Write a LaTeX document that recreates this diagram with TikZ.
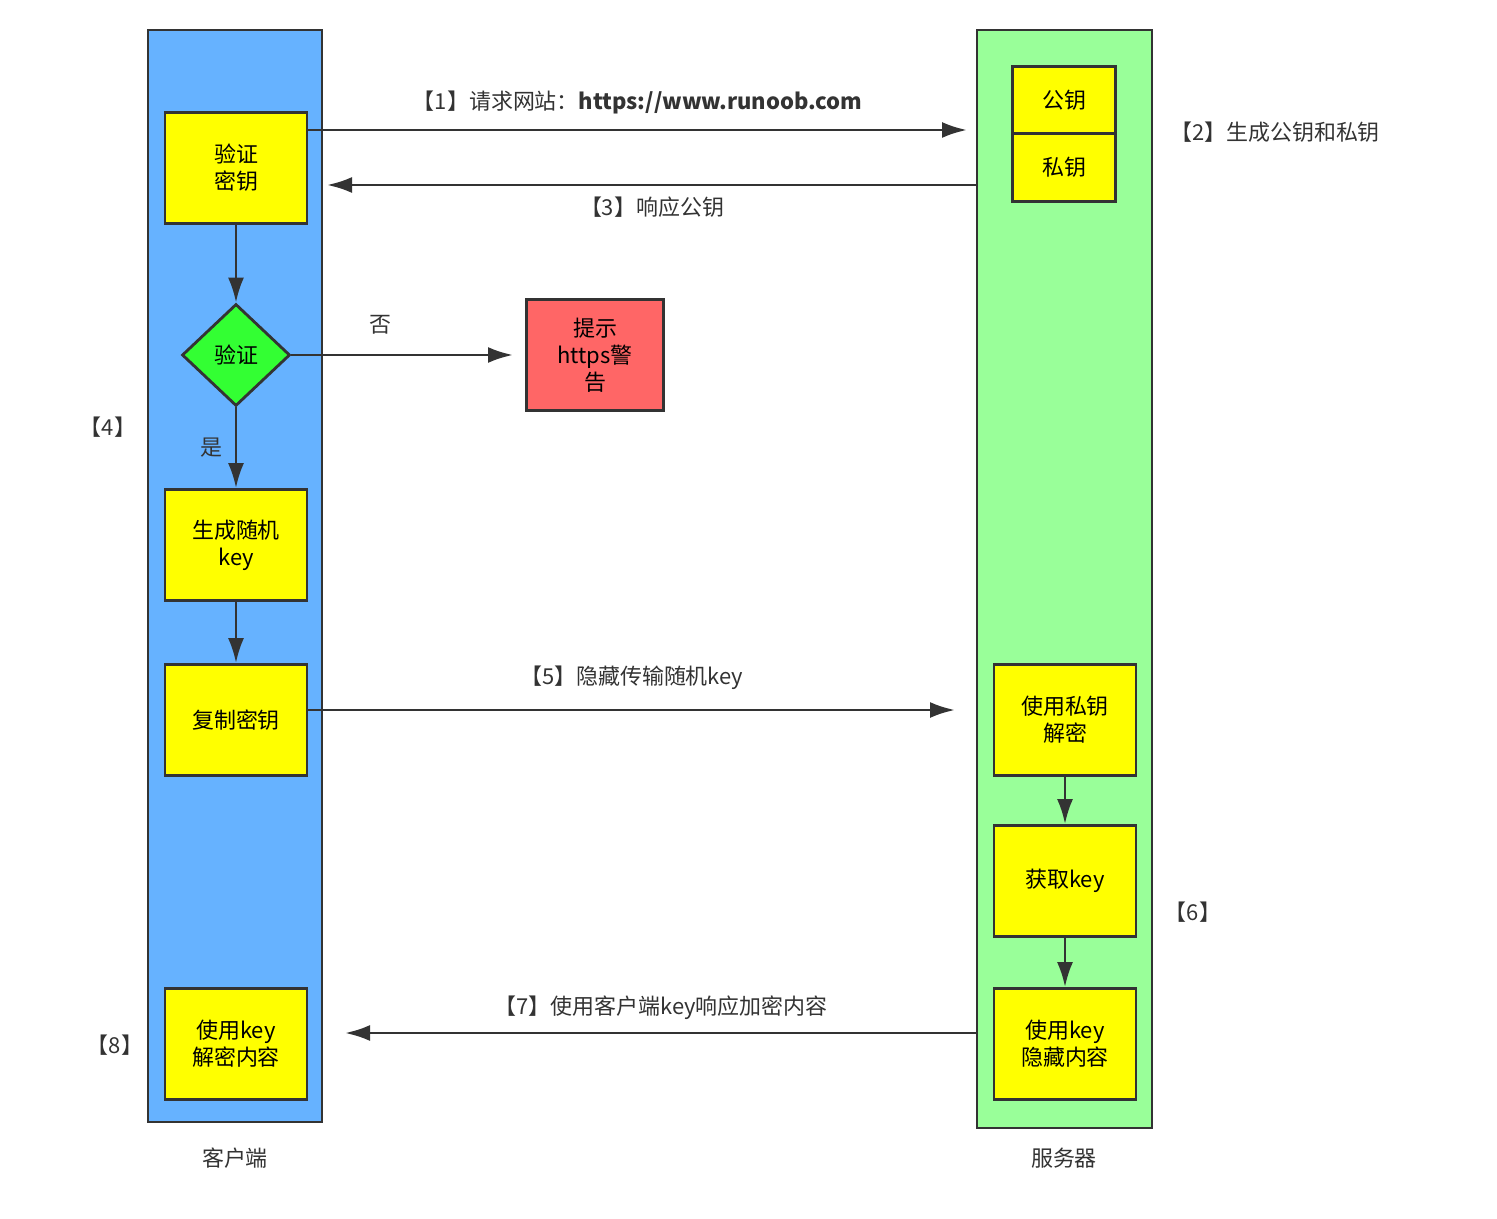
\documentclass[tikz,border=0pt]{standalone}
\usepackage{fontspec}
\setmainfont{Noto Sans CJK SC}
\usepackage{xcolor}
\usetikzlibrary{positioning, arrows.meta, shapes.geometric}
\definecolor{clientblue}{HTML}{66B2FF}
\definecolor{servergreen}{HTML}{99FF99}
\definecolor{boxyellow}{HTML}{FFFF00}
\definecolor{diagreen}{HTML}{33FF33}
\definecolor{warnred}{HTML}{FF6666}
\definecolor{linegray}{HTML}{333333}
\tikzset{
  lane/.style={draw=linegray, line width=1.6pt},
  stepbox/.style={draw=linegray, line width=1.6pt, fill=boxyellow, minimum width=2.84cm, minimum height=2.22cm, align=center, font=\fontsize{12.5}{15.5}\selectfont, inner sep=0pt},
  flow/.style={draw=linegray, line width=1.6pt, -{Latex[length=0.5cm,width=0.32cm]}},
  lbl/.style={font=\fontsize{12.5}{15.5}\selectfont, text=linegray, inner sep=1pt}
}
\begin{document}
\begin{tikzpicture}[x=0.02cm, y=-0.02cm]
        \useasboundingbox (0,0) rectangle (1497,1219);
        % lanes
        \draw[lane, fill=clientblue] (148,30) rectangle (322,1122);
        \draw[lane, fill=servergreen] (977,30) rectangle (1152,1128);
        \node[lbl] (client) at (235,1158) {客户端};
        \node[lbl] (server) at (1064,1158) {服务器};
        % client side
        \node[stepbox] (check) at (236,168) {验证\\密钥};
        \node[diamond, draw=linegray, line width=1.6pt, fill=diagreen, minimum width=2.16cm, minimum height=2.04cm, inner sep=0pt, font=\fontsize{12.5}{15.5}\selectfont] (verify) at (236,355) {验证};
        \node[stepbox, fill=warnred, minimum width=2.74cm] (warn) at (595,355) {提示\\https警\\告};
        \node[stepbox] (genkey) at (236,545) {生成随机\\key};
        \node[stepbox] (copykey) at (236,720) {复制密钥};
        \node[stepbox] (decode) at (236,1044) {使用key\\解密内容};
        % server side
        \node[stepbox, minimum width=2.06cm, minimum height=1.34cm] (pub) at (1064,100) {公钥};
        \node[stepbox, minimum width=2.06cm, minimum height=1.36cm, below=-1.6pt of pub] (priv) {私钥};
        \node[stepbox] (privdec) at (1065,720) {使用私钥\\解密};
        \node[stepbox] (getkey) at (1065,881) {获取key};
        \node[stepbox] (hide) at (1065,1044) {使用key\\隐藏内容};
        % free ends
        \coordinate (req) at (967,130);
        \coordinate (resp) at (327,185);
        \coordinate (respsrc) at (977,185);
        \coordinate (warnin) at (513,355);
        \coordinate (send) at (955,710);
        \coordinate (back) at (345,1033);
        \coordinate (backsrc) at (977,1033);
        % connectors
        \draw[flow] (check.east |- req) -- node[lbl, above=7pt] {【1】请求网站：\textbf{https://www.runoob.com}} (req);
        \draw[flow] (respsrc) -- node[lbl, below=5pt] {【3】响应公钥} (resp);
        \draw[flow] (check) -- (verify);
        \draw[flow] (verify) -- node[lbl, above=10pt, pos=0.4] {否} (warnin);
        \draw[flow] (verify) -- node[lbl, left=6pt] {是} (genkey);
        \draw[flow] (genkey) -- (copykey);
        \draw[flow] (copykey.east |- send) -- node[lbl, above=10pt] {【5】隐藏传输随机key} (send);
        \draw[flow] (privdec) -- (getkey);
        \draw[flow] (getkey) -- (hide);
        \draw[flow] (backsrc) -- node[lbl, above=6pt] {【7】使用客户端key响应加密内容} (back);
        % step labels
        \node[lbl] (s2) at (1275,132) {【2】生成公钥和私钥};
        \node[lbl] (s4) at (108,427) {【4】};
        \node[lbl] (s6) at (1193,912) {【6】};
        \node[lbl] (s8) at (115,1045) {【8】};
\end{tikzpicture}
\end{document}
